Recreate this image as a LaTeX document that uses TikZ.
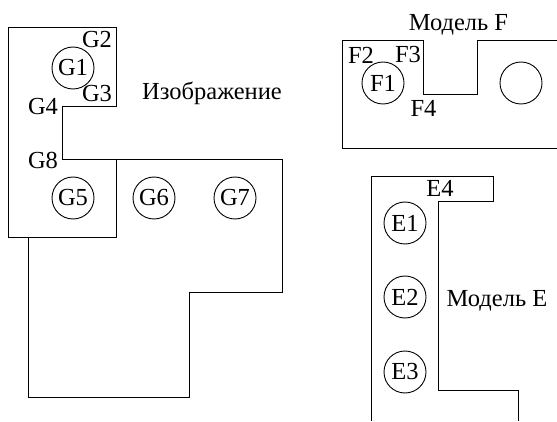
\documentclass[tikz,border=0pt]{standalone}
\usepackage{fontspec}
\setmainfont{Liberation Serif}
\begin{document}
\begin{tikzpicture}[x=1pt,y=-1pt,line width=1pt,line join=miter,
  lbl/.style={font=\fontsize{24.5}{28}\selectfont,inner sep=0pt},
  ring/.style={circle,draw,line width=0.9pt,minimum size=42pt,inner sep=0pt,font=\fontsize{24.5}{28}\selectfont}]
\useasboundingbox (0,0) rectangle (557,422);
% image outline
\draw (116,160) -- (116,238) -- (8,238) -- (8,28) -- (116,28) -- (116,107)
  -- (62,107) -- (62,160) -- (282,160) -- (282,292) -- (189,292)
  -- (189,397) -- (28,397) -- (28,238);
% model F outline
\draw (557,41) -- (477,41) -- (477,95) -- (423,95) -- (423,41)
  -- (342,41) -- (342,149) -- (557,149);
% model E outline
\draw (371,421) -- (371,177) -- (493,177) -- (493,202) -- (438,202)
  -- (438,390) -- (518,390) -- (518,421);
% circles
\node[ring] (g1) at (73,68) {G1};
\node[ring] (g5) at (73,198) {G5};
\node[ring] (g6) at (154,198) {G6};
\node[ring] (g7) at (235,198) {G7};
\node[ring] (f1) at (383,83) {F1};
\node[ring] (fc) at (521,83) {};
\node[ring] (e1) at (405,223) {E1};
\node[ring] (e2) at (405,297) {E2};
\node[ring] (e3) at (405,372) {E3};
% labels
\node[lbl] (g2) at (97,40) {G2};
\node[lbl] (g3) at (97,94) {G3};
\node[lbl] (g4) at (43,107) {G4};
\node[lbl] (g8) at (43,160) {G8};
\node[lbl] (f2) at (361,55) {F2};
\node[lbl] (f3) at (408,55) {F3};
\node[lbl] (f4) at (423.5,108) {F4};
\node[lbl] (e4) at (440,188) {E4};
\node[lbl,anchor=base] (img) at (212,100) {Изображение};
\node[lbl,anchor=base] (mf) at (458.5,31) {Модель F};
\node[lbl,anchor=base] (me) at (497,306) {Модель E};
\end{tikzpicture}
\end{document}
